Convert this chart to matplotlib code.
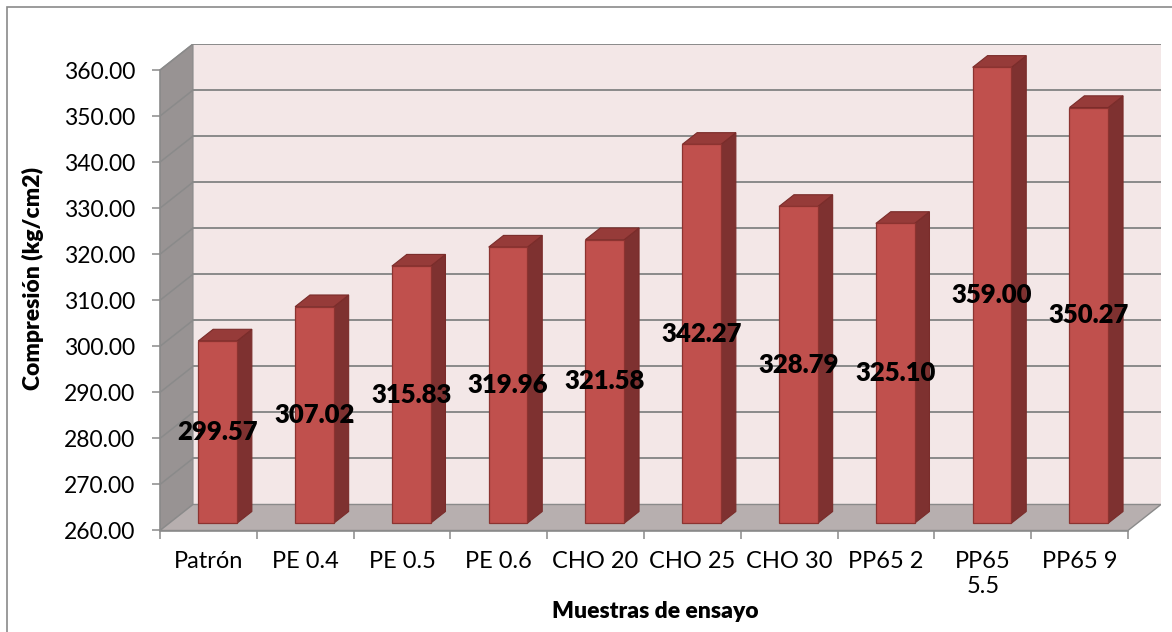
import matplotlib.pyplot as plt
from matplotlib.patches import Polygon, Rectangle

# resistencia a compresion por muestra de ensayo
muestras = ['Patrón', 'PE 0.4', 'PE 0.5', 'PE 0.6', 'CHO 20', 'CHO 25',
            'CHO 30', 'PP65 2', 'PP65\n5.5', 'PP65 9']
compresion = [299.57, 307.02, 315.83, 319.96, 321.58, 342.27,
              328.79, 325.10, 359.00, 350.27]
yticks = [260, 270, 280, 290, 300, 310, 320, 330, 340, 350, 360]

plt.rcParams['font.family'] = ['Lato', 'DejaVu Sans']

ymin, ymax = 260, 360
n = len(muestras)
# desplazamiento de profundidad (efecto 3D estilo Excel)
dx, dy = 0.341, 5.65
f0, f1 = 0.28, 0.73
ancho = 0.40

fig = plt.figure(figsize=(11.72, 6.32), dpi=100)
ax = fig.add_axes([160 / 1172, (632 - 530.5) / 632,
                   (1161 - 160) / 1172, (530.5 - 44) / 632])
ax.set_xlim(0, n + dx)
ax.set_ylim(ymin, ymax + dy)

gris = '#8a8a8a'

# paredes: fondo, lateral y piso
ax.add_patch(Polygon([(dx, ymin + dy), (n + dx, ymin + dy),
                      (n + dx, ymax + dy), (dx, ymax + dy)],
                     closed=True, facecolor='#f3e7e7', edgecolor='none', zorder=1))
ax.add_patch(Polygon([(0, ymin), (dx, ymin + dy), (dx, ymax + dy), (0, ymax)],
                     closed=True, facecolor='#989393', edgecolor=gris,
                     linewidth=0.8, zorder=1))
ax.add_patch(Polygon([(0, ymin), (n, ymin), (n + dx, ymin + dy), (dx, ymin + dy)],
                     closed=True, facecolor='#b7afaf', edgecolor=gris,
                     linewidth=1.0, zorder=1))

# lineas de division
for v in yticks[1:]:
    ax.plot([dx, n + dx], [v + dy, v + dy], color=gris, lw=1.4, zorder=2)
    ax.plot([0, dx], [v, v + dy], color=gris, lw=1.1, zorder=2)

# barras 3D
for i, v in enumerate(compresion):
    x0 = i + 0.5 - ancho / 2 + f0 * dx
    x1 = x0 + ancho
    b = ymin + f0 * dy
    t = v + f0 * dy
    ddx = (f1 - f0) * dx
    ddy = (f1 - f0) * dy
    ax.add_patch(Polygon([(x1, b), (x1 + ddx, b + ddy), (x1 + ddx, t + ddy), (x1, t)],
                         closed=True, facecolor='#7e3130', edgecolor='#7a2c2a',
                         linewidth=0.8, zorder=3))
    ax.add_patch(Polygon([(x0, t), (x1, t), (x1 + ddx, t + ddy), (x0 + ddx, t + ddy)],
                         closed=True, facecolor='#963b39', edgecolor='#7a2c2a',
                         linewidth=0.8, zorder=3))
    ax.add_patch(Rectangle((x0, b), ancho, v - ymin, facecolor='#c0504d',
                           edgecolor='#8c3330', linewidth=0.9, zorder=4))
    ax.text(i + 0.5 + f0 * dx, (ymin + v) / 2 + f0 * dy, f'{v:.2f}',
            ha='center', va='center', fontsize=18.5, fontweight='heavy',
            color='black', zorder=5)

# ejes
for s in ['top', 'right']:
    ax.spines[s].set_visible(False)
ax.spines['left'].set_bounds(ymin, ymax)
ax.spines['bottom'].set_bounds(0, n)
for s in ['left', 'bottom']:
    ax.spines[s].set_color(gris)
    ax.spines[s].set_linewidth(1.2)
    ax.spines[s].set_zorder(2)

ax.set_yticks(yticks)
ax.set_yticklabels([f'{v:.2f}' for v in yticks])
ax.tick_params(axis='y', length=6, width=1.1, color=gris, pad=12, labelsize=16.5)

ax.set_xticks(range(n + 1))
ax.set_xticklabels([])
ax.set_xticks([i + 0.5 for i in range(n)], minor=True)
ax.set_xticklabels(muestras, minor=True, fontsize=17, linespacing=1.2, va='top')
ax.tick_params(axis='x', which='major', length=6, width=1.1, color=gris)
ax.tick_params(axis='x', which='minor', length=0, pad=15)

fig.text(33 / 1172, 1 - 278 / 632, 'Compresión (kg/cm2)', rotation=90,
         ha='center', va='center', fontsize=16.5, fontweight='heavy')
fig.text(655 / 1172, 1 - 612 / 632, 'Muestras de ensayo',
         ha='center', va='center', fontsize=16.5, fontweight='heavy')

# marco del grafico
fig.add_artist(Rectangle((7 / 1172, -0.1), 1.2, 1.1 - 7 / 632,
                         transform=fig.transFigure, fill=False,
                         edgecolor=gris, linewidth=1.2))

fig.savefig('out.png', dpi=100)
